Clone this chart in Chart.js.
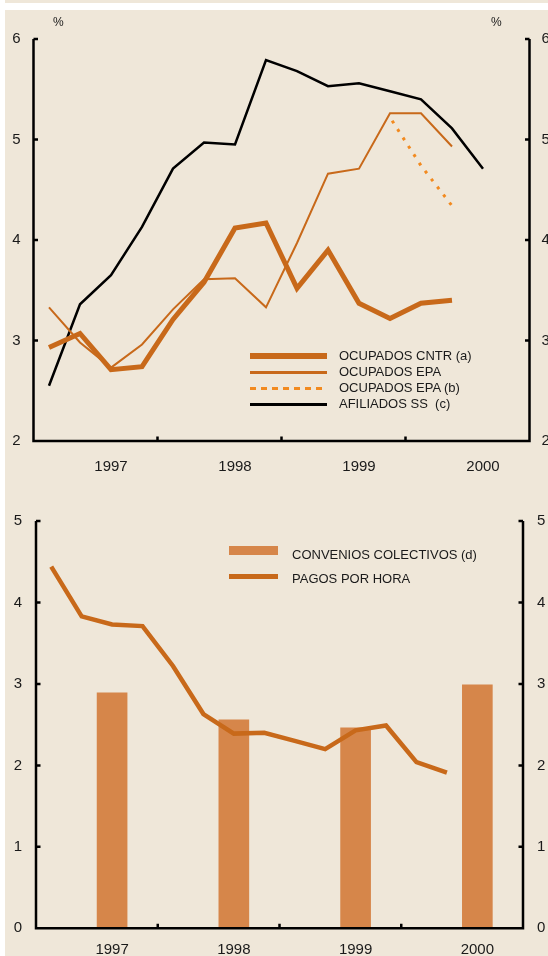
<!DOCTYPE html>
<html><head><meta charset="utf-8">
<script src="https://cdn.jsdelivr.net/npm/chart.js@4.4.1/dist/chart.umd.min.js"></script>
<style>
html,body{margin:0;padding:0;background:#fff;width:548px;height:956px;overflow:hidden;font-family:"Liberation Sans",Arial,sans-serif;}
#strip{position:absolute;left:5px;top:0;width:543px;height:3px;background:#efe7d9;}
#panel{position:absolute;left:5px;top:10px;width:543px;height:946px;background:#efe7d9;}
#c1{position:absolute;left:0;top:0;}
#c2{position:absolute;left:0;top:480px;}
.pct{position:absolute;font-size:12px;line-height:14px;color:#1a1a1a;top:15px;}
.leg{position:absolute;font-size:13px;line-height:16px;color:#1a1a1a;white-space:nowrap;}
.sw{position:absolute;}
</style></head><body>
<div id="strip"></div>
<div id="panel"></div>
<canvas id="c1" width="548" height="480"></canvas>
<canvas id="c2" width="548" height="476"></canvas>
<div class="pct" style="left:53px">%</div>
<div class="pct" style="left:491px">%</div>

<div class="sw" style="left:250px;top:353px;width:77px;height:6px;background:#c8691a"></div>
<div class="sw" style="left:250px;top:371px;width:77px;height:2.5px;background:#c8691a"></div>
<div class="sw" style="left:250px;top:386.5px;width:77px;height:3px;background:repeating-linear-gradient(90deg,#f28a1f 0 6px,transparent 6px 11px)"></div>
<div class="sw" style="left:250px;top:403px;width:77px;height:2.5px;background:#000"></div>
<div class="leg" style="left:339px;top:348px">OCUPADOS CNTR (a)</div>
<div class="leg" style="left:339px;top:364px">OCUPADOS EPA</div>
<div class="leg" style="left:339px;top:380px">OCUPADOS EPA (b)</div>
<div class="leg" style="left:339px;top:396px">AFILIADOS SS&nbsp; (c)</div>

<div class="sw" style="left:229px;top:546px;width:49px;height:9px;background:#d6864a"></div>
<div class="sw" style="left:229px;top:573.5px;width:49px;height:5px;background:#c8691a"></div>
<div class="leg" style="left:292px;top:546.5px">CONVENIOS COLECTIVOS (d)</div>
<div class="leg" style="left:292px;top:570.5px">PAGOS POR HORA</div>

<script>
const quarters = ['1997 I','1997 II','1997 III','1997 IV','1998 I','1998 II','1998 III','1998 IV',
                  '1999 I','1999 II','1999 III','1999 IV','2000 I','2000 II','2000 III','2000 IV'];
const yearLabels = ['1997','1998','1999','2000'];

const ocupadosCNTR = [2.93,3.07,2.71,2.74,3.21,3.58,4.12,4.17,3.52,3.90,3.37,3.22,3.37,3.40,null,null];
const ocupadosEPA  = [3.33,2.98,2.73,2.96,3.31,3.61,3.62,3.33,3.97,4.66,4.71,5.26,5.26,4.93,null,null];
const ocupadosEPAb = [null,null,null,null,null,null,null,null,null,null,null,5.22,4.74,4.34,null,null];
const afiliadosSS  = [2.55,3.36,3.65,4.13,4.71,4.97,4.95,5.79,5.68,5.53,5.56,5.48,5.40,5.11,4.71,null];

const conveniosColectivos = [null,null,2.89,null,null,null,2.56,null,null,null,2.46,null,null,null,2.99,null];
const pagosPorHora = [4.44,3.83,3.73,3.71,3.22,2.63,2.39,2.40,2.30,2.20,2.43,2.49,2.04,1.91,null,null];

const topRange = [2,6];
const bottomRange = [0,5];

const ORANGE = '#c8691a', ORANGE_B = '#f28a1f', BAR = '#d6864a', TXT = '#1a1a1a';
Chart.defaults.font.family = '"Liberation Sans", Arial, sans-serif';
Chart.defaults.color = TXT;

const axesPlugin = {
  id: 'axesDraw',
  afterDatasetsDraw(chart) {
    const {ctx, chartArea: a, scales} = chart;
    const x = scales.x, y = scales.y;
    ctx.save();
    ctx.strokeStyle = '#000';
    ctx.lineWidth = 2.5;
    ctx.lineCap = 'butt';
    ctx.beginPath();
    ctx.moveTo(a.left, a.top); ctx.lineTo(a.left, a.bottom);
    ctx.moveTo(a.right, a.top); ctx.lineTo(a.right, a.bottom);
    ctx.moveTo(a.left - 1.25, a.bottom); ctx.lineTo(a.right + 1.25, a.bottom);
    const tl = 4.5;
    y.ticks.forEach(t => {
      const py = y.getPixelForValue(t.value);
      ctx.moveTo(a.left, py); ctx.lineTo(a.left + tl, py);
      ctx.moveTo(a.right, py); ctx.lineTo(a.right - tl, py);
    });
    for (let j = 4; j < quarters.length; j += 4) {
      const px = (x.getPixelForValue(j - 1) + x.getPixelForValue(j)) / 2;
      ctx.moveTo(px, a.bottom); ctx.lineTo(px, a.bottom - tl);
    }
    ctx.stroke();
    ctx.restore();
  }
};

function yAxis(range, pos, width, pad) {
  return {
    type: 'linear', position: pos, min: range[0], max: range[1], display: true,
    ticks: { stepSize: 1, padding: pad, font: { size: 15 }, color: TXT },
    grid: { display: false, drawTicks: false },
    border: { display: false },
    afterFit(s) { s.width = width; }
  };
}
function xAxis(height, pad) {
  return {
    type: 'category', offset: true,
    ticks: { autoSkip: false, maxRotation: 0, padding: pad, font: { size: 15 }, color: TXT,
      callback: (v, i) => (i % 4 === 2 ? yearLabels[Math.floor(i / 4)] : '') },
    grid: { display: false, drawTicks: false, offset: true },
    border: { display: false },
    afterFit(s) { s.height = height; }
  };
}

new Chart(document.getElementById('c1'), {
  type: 'line',
  data: {
    labels: quarters,
    datasets: [
      { label: 'OCUPADOS CNTR (a)', data: ocupadosCNTR, borderColor: ORANGE, borderWidth: 5, pointRadius: 0, tension: 0 },
      { label: 'OCUPADOS EPA', data: ocupadosEPA, borderColor: ORANGE, borderWidth: 2, pointRadius: 0, tension: 0 },
      { label: 'OCUPADOS EPA (b)', data: ocupadosEPAb, borderColor: ORANGE_B, borderWidth: 3, borderDash: [3, 7], borderDashOffset: 6, pointRadius: 0, tension: 0 },
      { label: 'AFILIADOS SS (c)', data: afiliadosSS, borderColor: '#000', borderWidth: 2.5, pointRadius: 0, tension: 0 }
    ]
  },
  options: {
    responsive: false, devicePixelRatio: 1, animation: false,
    layout: { padding: { top: 39, left: 0, right: 0, bottom: 0 } },
    plugins: { legend: { display: false }, tooltip: { enabled: false } },
    scales: {
      x: xAxis(39, 17),
      y: yAxis(topRange, 'left', 33.5, 13),
      y2: yAxis(topRange, 'right', 18.5, 12)
    }
  },
  plugins: [axesPlugin]
});

new Chart(document.getElementById('c2'), {
  type: 'bar',
  data: {
    labels: quarters,
    datasets: [
      { type: 'line', label: 'PAGOS POR HORA', data: pagosPorHora, borderColor: ORANGE, borderWidth: 4.5, pointRadius: 0, tension: 0, order: 0 },
      { type: 'bar', label: 'CONVENIOS COLECTIVOS (d)', data: conveniosColectivos, backgroundColor: BAR, barThickness: 30, order: 1, skipNull: true }
    ]
  },
  options: {
    responsive: false, devicePixelRatio: 1, animation: false,
    layout: { padding: { top: 41, left: 0, right: 0, bottom: 0 } },
    plugins: { legend: { display: false }, tooltip: { enabled: false } },
    scales: {
      x: xAxis(27.7, 13),
      y: yAxis(bottomRange, 'left', 36, 14),
      y2: yAxis(bottomRange, 'right', 25, 14)
    }
  },
  plugins: [axesPlugin]
});
</script>
</body></html>
